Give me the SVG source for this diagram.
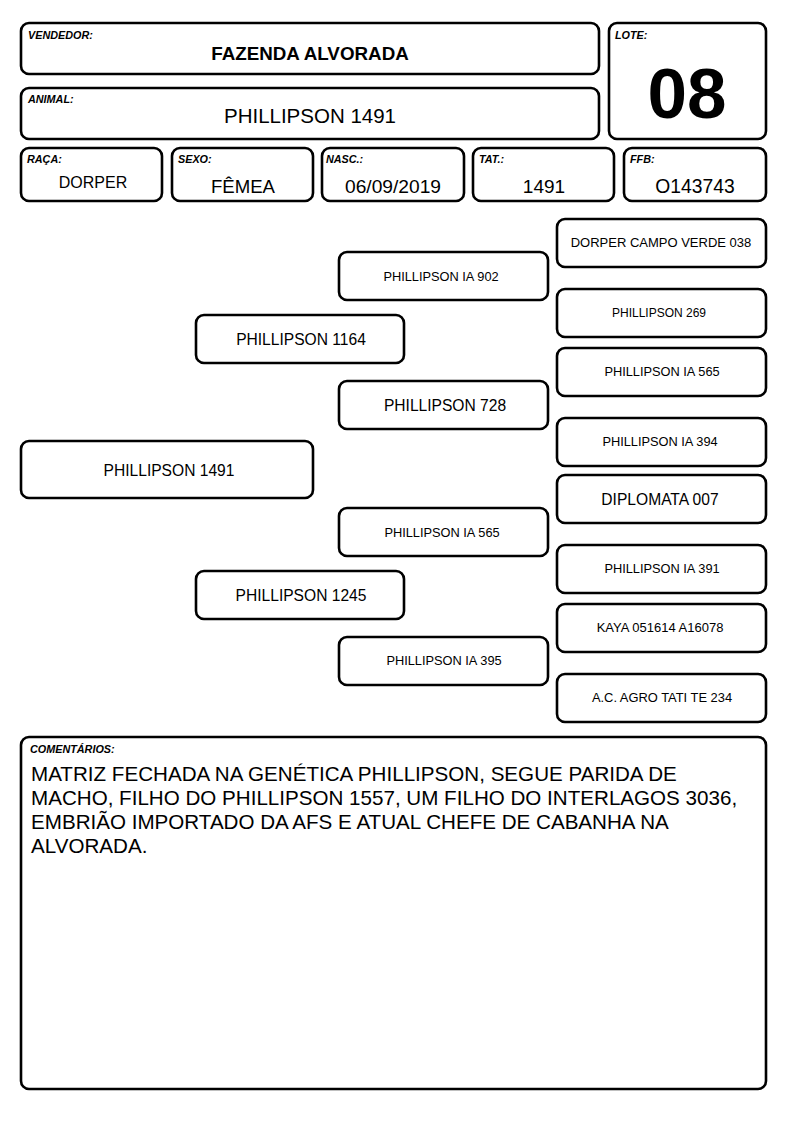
<svg xmlns="http://www.w3.org/2000/svg" width="794" height="1123" viewBox="0 0 794 1123">
<style>
rect{fill:#fff;stroke:#000;stroke-width:2.6}
text{font-family:"Liberation Sans",Arial,sans-serif;fill:#000}
.lb{font-size:10.8px;font-weight:bold;font-style:italic}
.c{text-anchor:middle}
.m{font-size:15.6px}
.s{font-size:12.8px}
.cm{font-size:20.6px}
</style>
<rect width="794" height="1123" style="fill:#fff;stroke:none"/>
<g id="vendedor"><rect x="21" y="23" width="578" height="51" rx="8"/><text class="lb" x="28" y="39">VENDEDOR:</text><text class="c" x="310" y="60" style="font-size:18.8px;font-weight:bold">FAZENDA ALVORADA</text></g>
<g id="animal"><rect x="21" y="88" width="578" height="51" rx="8"/><text class="lb" x="28" y="103">ANIMAL:</text><text class="c" x="310" y="123" style="font-size:20.5px">PHILLIPSON 1491</text></g>
<g id="lote"><rect x="609" y="23" width="157" height="116" rx="8"/><text class="lb" x="615" y="39">LOTE:</text><text class="c" x="687" y="118" style="font-size:71px;font-weight:bold">08</text></g>
<g id="raca"><rect x="21" y="148" width="141" height="53" rx="8"/><text class="lb" x="27" y="163">RAÇA:</text><text class="c" x="93" y="188" style="font-size:16px">DORPER</text></g>
<g id="sexo"><rect x="172" y="148" width="141" height="53" rx="8"/><text class="lb" x="178" y="163">SEXO:</text><text class="c" x="243" y="193" style="font-size:18.6px">FÊMEA</text></g>
<g id="nasc"><rect x="322" y="148" width="142" height="53" rx="8"/><text class="lb" x="326" y="163">NASC.:</text><text class="c" x="393" y="193" style="font-size:19.2px">06/09/2019</text></g>
<g id="tat"><rect x="473" y="148" width="141" height="53" rx="8"/><text class="lb" x="479" y="163">TAT.:</text><text class="c" x="544" y="193" style="font-size:19px">1491</text></g>
<g id="ffb"><rect x="624" y="148" width="142" height="53" rx="8"/><text class="lb" x="630" y="163">FFB:</text><text class="c" x="695" y="193" style="font-size:19.3px">O143743</text></g>
<g id="connectors"></g>
<g id="p1491"><rect x="21" y="441" width="292" height="57" rx="8"/><text class="c m" x="169" y="476">PHILLIPSON 1491</text></g>
<g id="p1164"><rect x="196" y="315" width="208" height="48" rx="8"/><text class="c m" x="301" y="345">PHILLIPSON 1164</text></g>
<g id="p1245"><rect x="196" y="571" width="208" height="48" rx="8"/><text class="c m" x="301" y="601">PHILLIPSON 1245</text></g>
<g id="pia902"><rect x="339" y="252" width="209" height="48" rx="8"/><text class="c s" x="441" y="281">PHILLIPSON IA 902</text></g>
<g id="p728"><rect x="339" y="381" width="209" height="48" rx="8"/><text class="c m" x="445" y="411">PHILLIPSON 728</text></g>
<g id="pia565m"><rect x="339" y="508" width="209" height="48" rx="8"/><text class="c s" x="442" y="537">PHILLIPSON IA 565</text></g>
<g id="pia395"><rect x="339" y="637" width="209" height="48" rx="8"/><text class="c s" x="444" y="665">PHILLIPSON IA 395</text></g>
<g id="dcv038"><rect x="557" y="219" width="209" height="48" rx="8"/><text class="c" x="661" y="247" style="font-size:13px">DORPER CAMPO VERDE 038</text></g>
<g id="p269"><rect x="557" y="289" width="209" height="48" rx="8"/><text class="c" x="659" y="317" style="font-size:12px">PHILLIPSON 269</text></g>
<g id="pia565r"><rect x="557" y="348" width="209" height="48" rx="8"/><text class="c s" x="662" y="376">PHILLIPSON IA 565</text></g>
<g id="pia394"><rect x="557" y="418" width="209" height="48" rx="8"/><text class="c s" x="660" y="446">PHILLIPSON IA 394</text></g>
<g id="dip007"><rect x="557" y="475" width="209" height="48" rx="8"/><text class="c m" x="660" y="505">DIPLOMATA 007</text></g>
<g id="pia391"><rect x="557" y="545" width="209" height="48" rx="8"/><text class="c s" x="662" y="573">PHILLIPSON IA 391</text></g>
<g id="kaya"><rect x="557" y="604" width="209" height="48" rx="8"/><text class="c" x="660" y="632" style="font-size:13px">KAYA 051614 A16078</text></g>
<g id="acagro"><rect x="557" y="674" width="209" height="48" rx="8"/><text class="c" x="662" y="702" style="font-size:12.9px">A.C. AGRO TATI TE 234</text></g>
<g id="comentarios"><rect x="21" y="737" width="745" height="352" rx="8"/><text class="lb" x="30" y="753">COMENTÁRIOS:</text>
<text class="cm" x="31" y="781">MATRIZ FECHADA NA GENÉTICA PHILLIPSON, SEGUE PARIDA DE</text>
<text class="cm" x="31" y="805">MACHO, FILHO DO PHILLIPSON 1557, UM FILHO DO INTERLAGOS 3036,</text>
<text class="cm" x="31" y="829">EMBRIÃO IMPORTADO DA AFS E ATUAL CHEFE DE CABANHA NA</text>
<text class="cm" x="31" y="853">ALVORADA.</text></g>
</svg>
